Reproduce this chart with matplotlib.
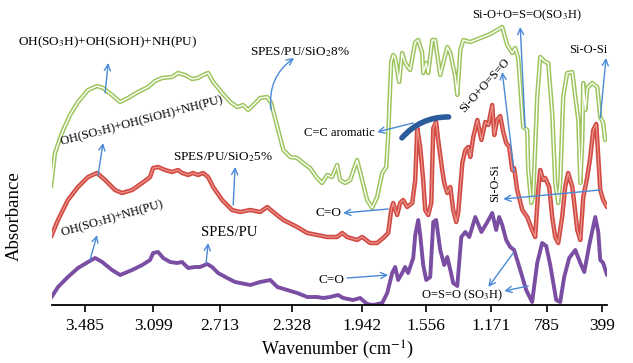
import numpy as np
import matplotlib
matplotlib.use("Agg")
import matplotlib.pyplot as plt
from matplotlib.patches import FancyArrowPatch

plt.rcParams['font.family'] = ['Liberation Serif', 'DejaVu Serif']
plt.rcParams['mathtext.fontset'] = 'stix'

# FTIR spectra: wavenumber (cm-1) and offset absorbance (a.u.)
# SPES/PU/SiO2 8%
wn_8 = [3678, 3655, 3616, 3570, 3525, 3468, 3417, 3383, 3332, 3286, 3241, 3184, 3127,
        3087, 3047, 2990, 2955, 2915, 2874, 2840, 2811, 2782, 2753, 2702, 2659, 2622,
        2590, 2563, 2525, 2499, 2461, 2440, 2407, 2375, 2338, 2300, 2267, 2229, 2190,
        2163, 2135, 2108, 2080, 2064, 2036, 2008, 1970, 1942, 1912, 1882, 1852, 1821,
        1797, 1785, 1767, 1755, 1743, 1719, 1701, 1683, 1653, 1622, 1604, 1580, 1574,
        1556, 1544, 1520, 1503, 1473, 1431, 1413, 1384, 1372, 1354, 1336, 1295, 1235,
        1176, 1130, 1095, 1061, 1026, 1006, 985, 951, 923, 916, 895, 882, 854, 833,
        799, 778, 750, 729, 708, 694, 673, 645, 609, 588, 567, 553, 539, 532, 518,
        504, 469, 434, 413, 392, 378]
abs_8 = [1.18, 1.52, 1.72, 1.90, 2.03, 2.15, 2.19, 2.17, 2.10, 2.03, 2.07, 2.13, 2.18,
         2.24, 2.27, 2.28, 2.32, 2.30, 2.26, 2.27, 2.30, 2.32, 2.23, 2.12, 2.03, 1.98,
         2.00, 1.95, 2.02, 2.07, 2.08, 2.02, 1.78, 1.55, 1.48, 1.47, 1.42, 1.37, 1.27,
         1.22, 1.30, 1.28, 1.40, 1.25, 1.22, 1.25, 1.45, 1.25, 1.05, 0.97, 1.08, 1.32,
         1.38, 1.70, 2.43, 2.50, 2.47, 2.23, 2.52, 2.42, 2.35, 2.63, 2.65, 2.52, 2.32,
         2.42, 2.32, 2.65, 2.65, 2.30, 2.58, 2.52, 2.28, 2.10, 2.55, 2.65, 2.63, 2.67,
         2.71, 2.75, 2.78, 2.60, 2.52, 2.57, 2.47, 1.78, 1.75, 1.35, 1.02, 1.08, 2.08,
         2.48, 2.43, 2.42, 1.92, 1.22, 1.02, 1.22, 2.08, 2.32, 2.33, 2.08, 1.85, 1.22,
         1.65, 2.22, 1.95, 2.17, 2.22, 2.18, 1.88, 1.82, 1.65]

# SPES/PU/SiO2 5%
wn_5 = [3678, 3638, 3582, 3525, 3468, 3417, 3371, 3315, 3275, 3218, 3161, 3116, 3099,
        3070, 3030, 2990, 2955, 2932, 2897, 2869, 2840, 2811, 2782, 2753, 2702, 2649,
        2606, 2552, 2499, 2461, 2429, 2375, 2300, 2245, 2190, 2135, 2080, 2052, 2025,
        1970, 1942, 1894, 1852, 1815, 1785, 1767, 1755, 1731, 1713, 1695, 1671, 1640,
        1622, 1610, 1592, 1574, 1562, 1544, 1526, 1514, 1497, 1485, 1461, 1449, 1431,
        1413, 1396, 1378, 1366, 1342, 1324, 1307, 1295, 1277, 1253, 1229, 1206, 1188,
        1164, 1150, 1130, 1109, 1088, 1068, 1047, 1026, 1013, 992, 957, 923, 889, 868,
        847, 833, 813, 799, 771, 750, 729, 708, 680, 659, 638, 609, 574, 553, 532,
        504, 483, 462, 441, 427, 413, 392, 364]
abs_5 = [0.68, 0.85, 1.05, 1.18, 1.28, 1.32, 1.25, 1.15, 1.12, 1.15, 1.22, 1.28, 1.37,
         1.38, 1.35, 1.33, 1.35, 1.32, 1.30, 1.32, 1.30, 1.32, 1.28, 1.18, 1.05, 0.95,
         0.93, 0.95, 0.93, 0.98, 0.93, 0.85, 0.78, 0.72, 0.70, 0.68, 0.68, 0.72, 0.68,
         0.65, 0.68, 0.62, 0.62, 0.67, 0.72, 0.95, 1.02, 0.90, 1.02, 1.05, 0.98, 1.02,
         1.25, 1.77, 1.58, 1.25, 0.95, 0.90, 1.02, 1.77, 1.83, 1.65, 1.35, 1.22, 1.12,
         1.18, 0.95, 0.83, 0.93, 1.42, 1.55, 1.58, 1.48, 1.68, 1.85, 1.65, 1.83, 1.80,
         2.00, 1.70, 1.85, 1.89, 1.73, 1.62, 1.58, 1.35, 1.37, 1.15, 0.95, 0.88, 0.75,
         0.68, 1.15, 1.35, 1.25, 1.27, 1.18, 0.88, 0.68, 0.62, 0.88, 1.18, 1.32, 1.18,
         0.75, 0.65, 1.08, 1.28, 1.48, 1.75, 1.81, 1.48, 1.15, 1.05, 0.98]

# SPES/PU
wn_0 = [3678, 3638, 3582, 3525, 3468, 3428, 3388, 3332, 3286, 3218, 3161, 3116, 3099,
        3070, 3041, 3001, 2961, 2932, 2897, 2857, 2828, 2788, 2759, 2725, 2675, 2633,
        2606, 2552, 2499, 2445, 2407, 2354, 2300, 2245, 2190, 2157, 2119, 2075, 2047,
        1992, 1953, 1912, 1876, 1821, 1791, 1761, 1743, 1725, 1701, 1683, 1665, 1634,
        1622, 1604, 1592, 1574, 1556, 1532, 1514, 1497, 1473, 1449, 1431, 1413, 1396,
        1372, 1348, 1324, 1301, 1265, 1229, 1194, 1164, 1137, 1116, 1095, 1068, 1040,
        1013, 971, 930, 889, 854, 820, 792, 764, 722, 694, 666, 631, 588, 553, 525,
        490, 448, 427, 413, 392, 364]
abs_0 = [0.07, 0.18, 0.28, 0.37, 0.43, 0.47, 0.43, 0.35, 0.30, 0.35, 0.40, 0.45, 0.52,
         0.53, 0.47, 0.43, 0.42, 0.43, 0.37, 0.38, 0.38, 0.41, 0.38, 0.32, 0.27, 0.23,
         0.22, 0.20, 0.23, 0.25, 0.18, 0.15, 0.12, 0.08, 0.08, 0.07, 0.08, 0.10, 0.07,
         0.05, 0.07, 0.01, 0.00, 0.02, 0.12, 0.32, 0.38, 0.25, 0.32, 0.38, 0.32, 0.47,
         0.70, 0.85, 0.70, 0.40, 0.25, 0.28, 0.83, 0.85, 0.55, 0.40, 0.48, 0.35, 0.22,
         0.19, 0.68, 0.73, 0.68, 0.88, 0.73, 0.83, 0.92, 0.75, 0.88, 0.80, 0.65, 0.58,
         0.55, 0.35, 0.15, 0.03, 0.42, 0.62, 0.59, 0.40, 0.05, 0.03, 0.28, 0.47, 0.55,
         0.42, 0.33, 0.60, 0.88, 0.73, 0.45, 0.42, 0.30]

tick_wn = [3485, 3099, 2713, 2328, 1942, 1556, 1171, 785, 399]
tick_labels = ["3.485", "3.099", "2.713", "2.328", "1.942", "1.556", "1.171", "785", "399"]

# the original axis is not evenly spaced between labels -> piecewise scale
scale_wn = np.array([3700] + tick_wn + [340], dtype=float)
scale_pos = np.array([47, 85, 153, 220, 292, 362, 426, 491, 547, 602, 610], dtype=float)


def fwd(w):
    return -np.interp(-np.asarray(w, dtype=float), -scale_wn, scale_pos)


def inv(p):
    return -np.interp(-np.asarray(p, dtype=float), scale_pos, -scale_wn)


fig = plt.figure(figsize=(6.33, 3.63), dpi=100)
ax = fig.add_axes([52 / 633, 58 / 363, 555 / 633, 300 / 363])
ax.set_xscale('function', functions=(fwd, inv))

# green: hollow double line
ax.plot(wn_8, abs_8, color='#9cc55e', lw=3.2, solid_capstyle='round', zorder=2)
ax.plot(wn_8, abs_8, color='white', lw=1.0, zorder=2.1)
# red: thick with lighter core
ax.plot(wn_5, abs_5, color='#d24a44', lw=3.2, solid_capstyle='round', zorder=2)
ax.plot(wn_5, abs_5, color='#ec9a90', lw=0.8, zorder=2.1)
# purple
ax.plot(wn_0, abs_0, color='#7a4ea3', lw=2.8, solid_capstyle='round', zorder=2)

ax.set_xlim(3672, 364)
ax.set_ylim(0, 3.0)
ax.set_xticks(tick_wn)
ax.set_xticklabels(tick_labels)
ax.minorticks_off()
ax.set_yticks([])
for s in ['left', 'top', 'right']:
    ax.spines[s].set_visible(False)
ax.spines['bottom'].set_linewidth(1.3)
ax.tick_params(axis='x', direction='out', length=5, width=1.2, labelsize=12.5, pad=4)

fig.text(0.5 * (52 + 607) / 633 + 0.012, 1 - 350 / 363, "Wavenumber (cm$^{-1}$)",
         ha='center', va='center', fontsize=13)
fig.text(14 / 633, 1 - 216 / 363, "Absorbance", rotation=90,
         ha='center', va='center', fontsize=13.5)

arrow_kw = dict(arrowstyle='->', color='#4a8ad6', lw=1.0, mutation_scale=11,
                shrinkA=0, shrinkB=0)


def arrow(head, tail, rad=0.0):
    kw = dict(arrow_kw)
    kw['connectionstyle'] = 'arc3,rad=%s' % rad
    ax.annotate('', xy=head, xytext=tail, arrowprops=kw, annotation_clip=False, zorder=5)


def label(x, y, s, size=9, rot=0):
    ax.text(x, y, s, ha='center', va='center', fontsize=size, rotation=rot,
            rotation_mode='anchor', zorder=6)


# SPES/PU/SiO2 8%
label(3354, 2.63, "OH(SO$_3$H)+OH(SiOH)+NH(PU)", 9.5)
arrow((3354, 2.42), (3371, 2.12))
label(2284, 2.53, "SPES/PU/SiO$_2$8%", 9.5)
arrow((2317, 2.47), (2440, 1.95), rad=-0.3)
# SPES/PU/SiO2 5%
label(3161, 1.84, "OH(SO$_3$H)+OH(SiOH)+NH(PU)", 9, 14.7)
arrow((3383, 1.62), (3411, 1.30))
label(2697, 1.48, "SPES/PU/SiO$_2$5%", 9.5)
arrow((2633, 1.38), (2643, 1.00))
# SPES/PU
label(3332, 0.86, "OH(SO$_3$H)+NH(PU)", 9, 16)
arrow((3417, 0.70), (3457, 0.45))
label(2665, 0.73, "SPES/PU", 10.5)
arrow((2782, 0.62), (2794, 0.42))

label(2069, 1.72, "C=C aromatic", 9)
arrow((1852, 1.73), (1634, 1.82))
label(2130, 0.92, "C=O", 9.5)
arrow((2047, 0.92), (1785, 0.96))
label(2113, 0.25, "C=O", 9.5)
arrow((1785, 0.30), (2025, 0.27))

label(1206, 2.20, "Si-O+O=S=O", 8.8, 48)
arrow((1095, 2.33), (1013, 1.33))
label(923, 2.90, "Si-O+O=S=O(SO$_3$H)", 9)
arrow((971, 2.78), (937, 1.77))
label(497, 2.55, "Si-O-Si", 9)
arrow((371, 2.47), (413, 1.87))
label(1143, 1.22, "Si-O-Si", 8.8, 90)
arrow((1088, 1.06), (413, 1.15))
label(1342, 0.10, "O=S=O (SO$_3$H)", 9)
arrow((1188, 0.18), (1019, 0.52))
arrow((1081, 0.14), (916, 0.19))

# thick dark-blue arc near the aromatic band
arc = FancyArrowPatch((1713, 1.65), (1407, 1.88), arrowstyle='-',
                      connectionstyle='arc3,rad=-0.25', lw=4, color='#2b5c9c',
                      capstyle='round', zorder=5)
ax.add_patch(arc)

fig.savefig('out.png', dpi=100)
